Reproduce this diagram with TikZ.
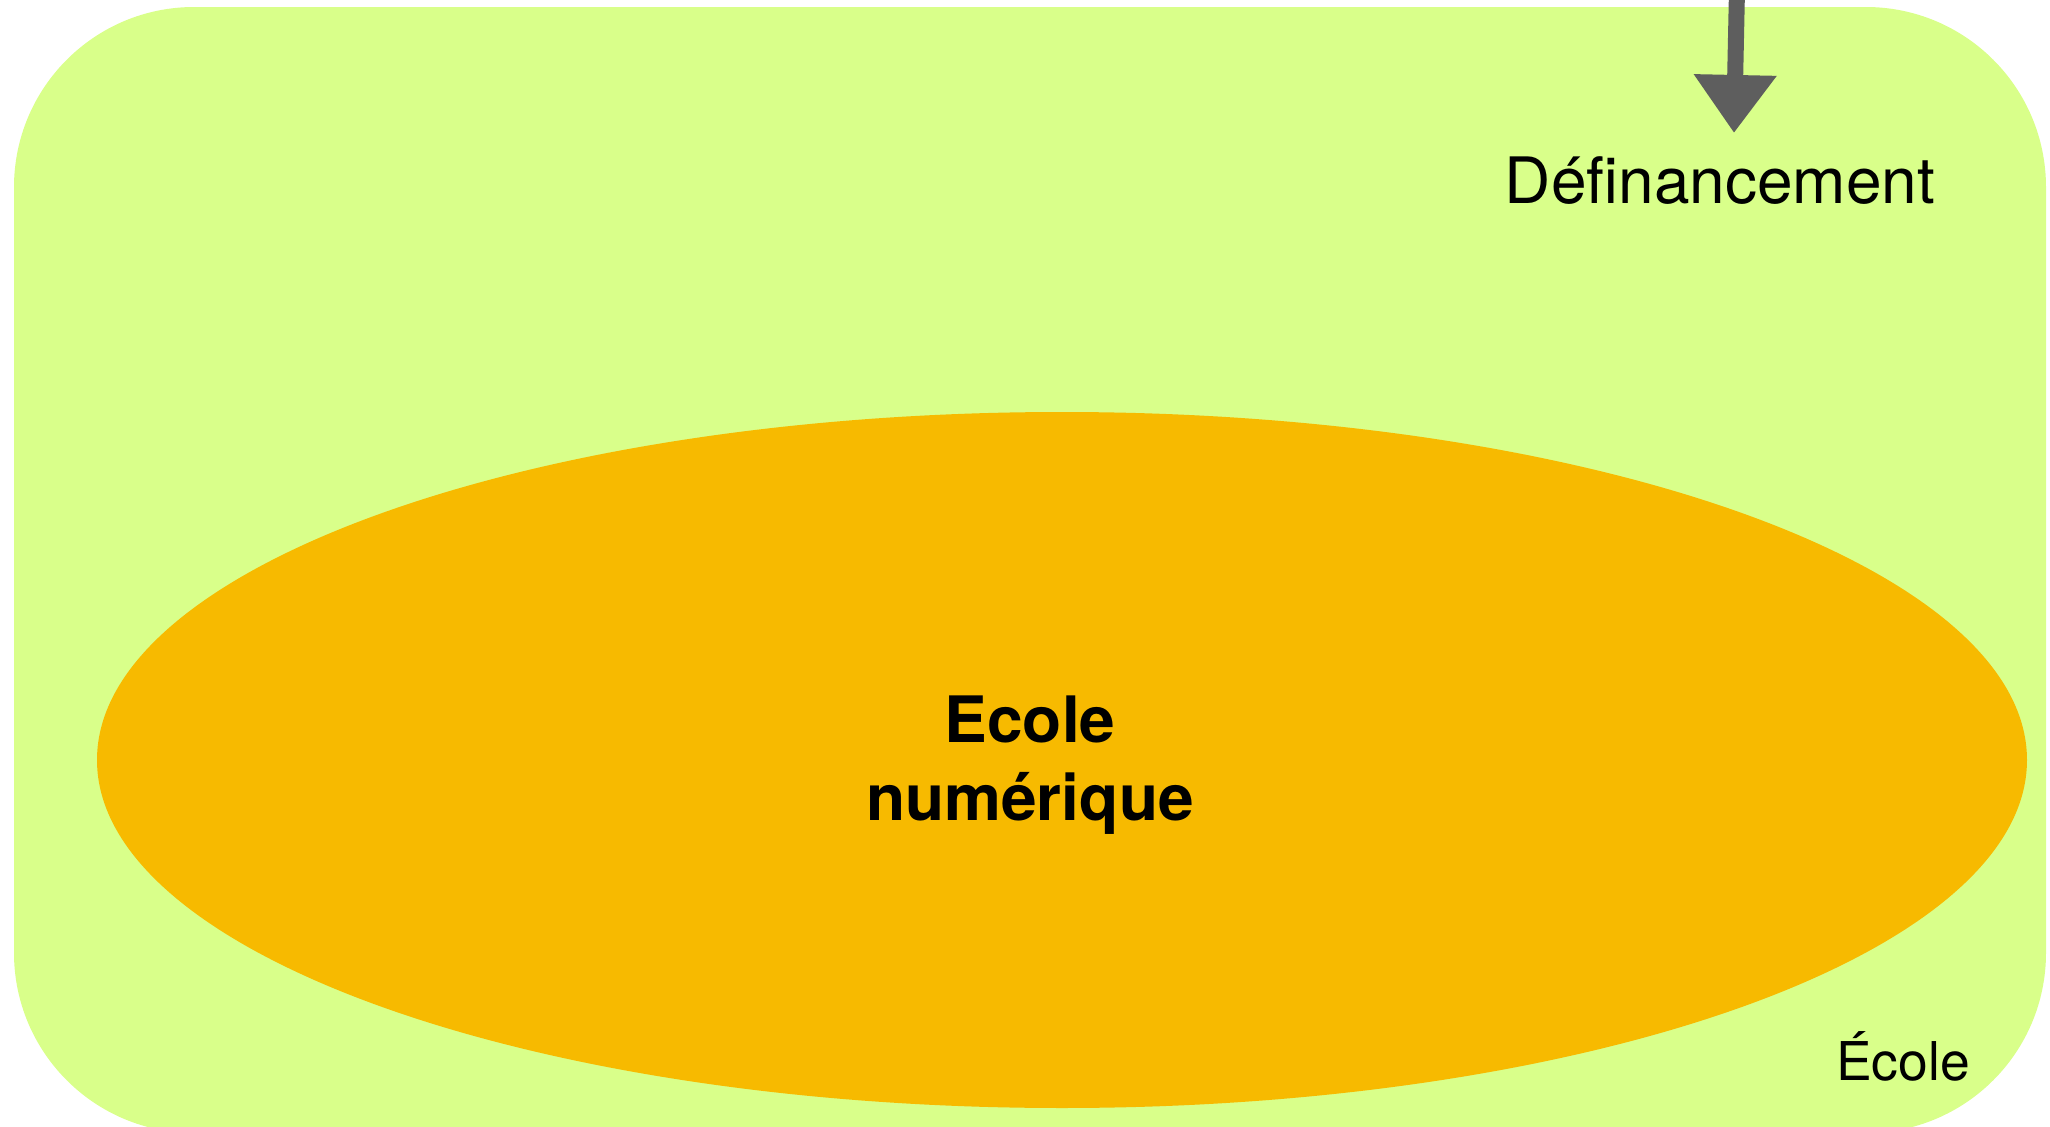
\documentclass[tikz,border=0pt]{standalone}
\usepackage{fontspec}
\setmainfont{TeX Gyre Heros}
\usetikzlibrary{arrows.meta}

\definecolor{schoolgreen}{RGB}{217,255,138}
\definecolor{digitalorange}{RGB}{247,186,0}
\definecolor{arrowgrey}{RGB}{94,94,94}

\begin{document}
\begin{tikzpicture}[x=0.01cm, y=-0.01cm,
    label/.style={inner sep=0pt, text=black},
    cut/.style={draw=arrowgrey, line width=0.16cm, -{Triangle[width=0.79cm, length=0.58cm]}, arrowgrey}]
    \useasboundingbox (0,0) rectangle (2050,1127);

    % School - big green rounded box
    \fill[schoolgreen, rounded corners=1.8cm] (14,7) rectangle (2046,1133);
    \node[label, anchor=base, font=\fontsize{15.2}{18}\selectfont] (ecole) at (1903,1080) {École};

    % Digital school - orange ellipse inside
    \fill[digitalorange] (1062,760) ellipse [x radius=965, y radius=348];
    \node[label, align=center, font=\fontsize{18.2}{22.2}\selectfont\bfseries] (numerique) at (1030,765) {Ecole\\numérique};

    % Funding cut coming in from above
    \node[label, anchor=base, font=\fontsize{18.2}{21}\selectfont] (definancement) at (1720,203) {Définancement};
    \coordinate (source) at (1737,-10);
    \coordinate (impact) at (1734,133);
    \draw[cut] (source) -- (impact);
\end{tikzpicture}
\end{document}
